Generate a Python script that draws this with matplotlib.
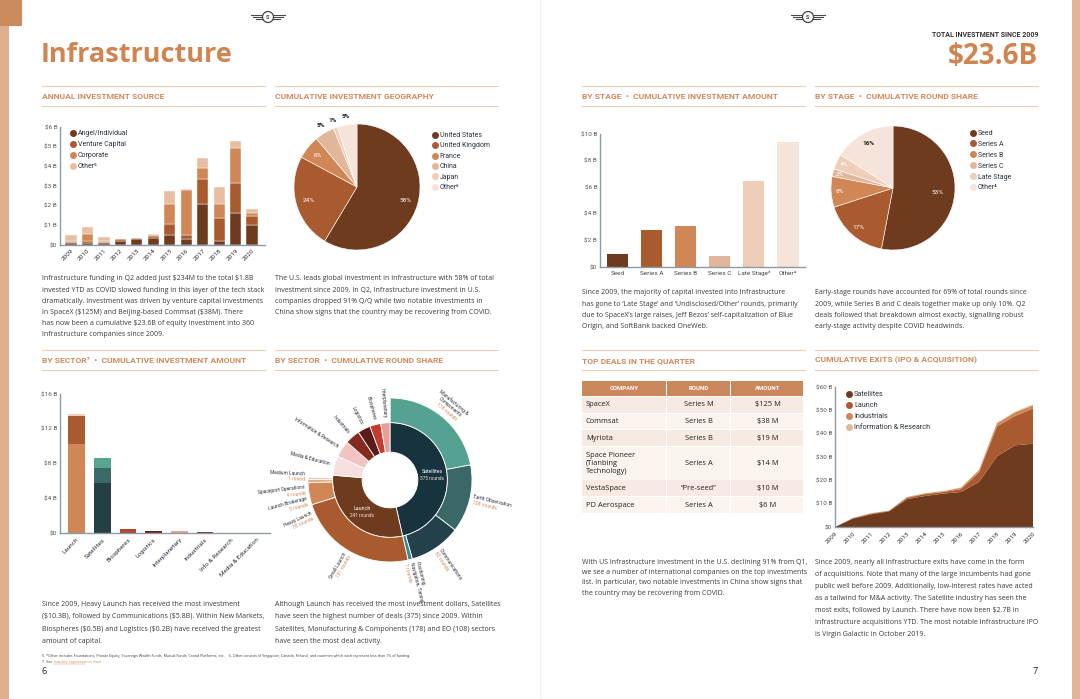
import numpy as np
import matplotlib.pyplot as plt
from matplotlib.patches import Rectangle, Circle
from matplotlib.lines import Line2D

plt.rcParams['font.family'] = ['Roboto', 'DejaVu Sans']
plt.rcParams['text.parse_math'] = False

# ---------------- data ----------------
years = list(range(2009, 2021))
source_names = ["Angel/Individual", "Venture Capital", "Corporate", "Other⁵"]
src_angel = [0.08, 0.12, 0.12, 0.20, 0.28, 0.38, 0.50, 0.32, 2.11, 0.22, 1.61, 1.00]
src_venture = [0.05, 0.10, 0.03, 0.10, 0.06, 0.10, 0.59, 0.18, 1.26, 1.15, 1.56, 0.47]
src_corporate = [0.07, 0.32, 0.05, 0.02, 0.02, 0.05, 0.97, 2.31, 0.57, 0.74, 1.77, 0.15]
src_other = [0.30, 0.38, 0.22, 0.01, 0.02, 0.05, 0.70, 0.04, 0.48, 0.82, 0.37, 0.21]

countries = ["United States", "United Kingdom", "France", "China", "Japan", "Other⁶"]
geo_share = [58, 24, 6, 5, 1, 5]

stages = ["Seed", "Series A", "Series B", "Series C", "Late Stage³", "Other⁴"]
stage_amount = [1.0, 2.75, 3.05, 0.86, 6.5, 9.4]
round_stages = ["Seed", "Series A", "Series B", "Series C", "Late Stage", "Other⁴"]
round_share = [53, 17, 8, 2, 4, 16]

sectors = ["Launch", "Satellites", "Biospheres", "Logistics", "Interplanetary",
           "Industrials", "Info & Research", "Media & Education"]
launch_parts = [10.3, 3.2, 0.25]          # heavy, small, other
satellite_parts = [5.8, 1.7, 1.1]         # communications, EO, manufacturing
other_sector_amount = [0.5, 0.2, 0.2, 0.15, 0.05, 0.03]

inner_names = ["Satellites", "Launch", "Media & Education", "Information & Research",
               "Industrials", "Logistics", "Biospheres", "Interplanetary"]
inner_rounds = [375, 241, 44, 38, 34, 29, 25, 21]
sat_sub_names = ["Manufacturing &\nComponents", "Earth Observation", "Communications",
                 "Positioning,\nNavigation, Timing"]
sat_sub_rounds = [178, 108, 82, 7]
launch_sub_names = ["Small Launch", "Heavy Launch", "Launch Brokerage",
                    "Spaceport Operations", "Medium Launch"]
launch_sub_rounds = [191, 35, 5, 4, 1]

deal_company = ["SpaceX", "Commsat", "Myriota", "Space Pioneer\n(Tianbing\nTechnology)",
                "VestaSpace", "PD Aerospace"]
deal_round = ["Series M", "Series B", "Series B", "Series A", "“Pre-seed”", "Series A"]
deal_amount = ["$125 M", "$38 M", "$19 M", "$14 M", "$10 M", "$6 M"]

exit_names = ["Satellites", "Launch", "Industrials", "Information & Research"]
exit_sat = [0, 3.6, 5.4, 6.7, 11.9, 13.3, 14.3, 15.0, 19.3, 30.3, 35.0, 35.7]
exit_launch = [0, 0.2, 0.3, 0.2, 0.6, 0.8, 0.7, 1.2, 4.1, 12.8, 12.6, 15.1]
exit_ind = [0, 0.1, 0.2, 0.1, 0.3, 0.3, 0.3, 0.6, 0.9, 1.3, 1.5, 1.4]
exit_info = [0, 0.0, 0.05, 0.05, 0.1, 0.1, 0.1, 0.2, 0.2, 0.3, 0.3, 0.3]

# ---------------- style ----------------
W, H = 1080, 699
ORANGE = '#d08a5c'
NAVY = '#2a3340'
TXT = '#3a3a3a'
SPINE = '#8e9ba4'
BROWN = ['#6f3b1f', '#a95b2f', '#d08755', '#e2b69b', '#eecdb9', '#f6e4da']
BODY = ['Open Sans', 'DejaVu Sans']

fig = plt.figure(figsize=(W / 100, H / 100), dpi=100)
fig.patch.set_facecolor('white')


def px_axes(x0, y0, x1, y1):
    return fig.add_axes([x0 / W, 1 - y1 / H, (x1 - x0) / W, (y1 - y0) / H])


def style_axes(ax, size=4.6):
    for s in ['top', 'right']:
        ax.spines[s].set_visible(False)
    for s in ['left', 'bottom']:
        ax.spines[s].set_color(SPINE)
        ax.spines[s].set_linewidth(1.0)
    ax.tick_params(length=0, labelsize=size, colors='#555555', pad=2)
    ax.set_facecolor('none')


def dot_legend(ax, labels, colors, x, y, size=5.0, spacing=0.45):
    handles = [Line2D([], [], marker='o', ls='', color=c, markersize=4) for c in colors]
    leg = ax.legend(handles, labels, loc='upper left', bbox_to_anchor=(x / W, 1 - y / H),
                    bbox_transform=fig.transFigure, frameon=False, fontsize=size,
                    handletextpad=0.2, labelspacing=spacing, handlelength=0.9,
                    borderaxespad=0, borderpad=0)
    for t in leg.get_texts():
        t.set_color(NAVY)
    return leg


# ---------------- page background ----------------
bg = fig.add_axes([0, 0, 1, 1])
bg.set_xlim(0, W)
bg.set_ylim(H, 0)
bg.axis('off')

bg.add_patch(Rectangle((0, 0), 9, H, color='#dfae8e', lw=0))
bg.add_patch(Rectangle((0, 0), 22, 26, color='#cc8a5f', lw=0))
bg.add_patch(Rectangle((1072, 0), 8, H, color='#e2b597', lw=0))
bg.plot([540, 540], [0, H], color='#f0f0f0', lw=1.0)

for cx in (268, 808):
    for side in (-1, 1):
        for dy, ln in ((-2.2, 12), (0, 10), (2.2, 7)):
            bg.plot([cx + side * 5, cx + side * (5 + ln)], [17 + dy, 17 + dy], color='#4a4a4a', lw=0.8)
    bg.add_patch(Circle((cx, 17), 5.5, fc='white', ec='#444444', lw=0.9, zorder=3))
    bg.text(cx, 17.5, 'S', fontsize=4, ha='center', va='center', color='#444444', zorder=4,
            fontweight='bold')

bg.text(41, 55, "Infrastructure", fontsize=19.5, fontweight='bold', color='#d0844f',
        family=['Open Sans', 'DejaVu Sans'], va='center')
bg.text(1038, 35, "TOTAL INVESTMENT SINCE 2009", fontsize=5.0, fontweight='bold',
        color='#333333', ha='right', va='center')
bg.text(1038, 56, "$23.6B", fontsize=20, fontweight='bold', color='#d0844f',
        family=['Open Sans', 'DejaVu Sans'], ha='right', va='center')


def section(x0, x1, y_top, title):
    bg.plot([x0, x1], [y_top, y_top], color='#edcdb5', lw=0.8)
    bg.plot([x0, x1], [y_top + 20, y_top + 20], color='#edcdb5', lw=0.8)
    bg.text(x0, y_top + 10.5, title, color=ORANGE, fontsize=6.1, fontweight='bold', va='center')


cols = [(42, 265), (275, 498), (582, 805), (815, 1038)]
top_titles = ["ANNUAL INVESTMENT SOURCE", "CUMULATIVE INVESTMENT GEOGRAPHY",
              "BY STAGE  •  CUMULATIVE INVESTMENT AMOUNT", "BY STAGE  •  CUMULATIVE ROUND SHARE"]
bot_titles = ["BY SECTOR⁷  •  CUMULATIVE INVESTMENT AMOUNT", "BY SECTOR  •  CUMULATIVE ROUND SHARE",
              "TOP DEALS IN THE QUARTER", "CUMULATIVE EXITS (IPO & ACQUISITION)"]
for (x0, x1), t in zip(cols, top_titles):
    section(x0, x1, 86, t)
for (x0, x1), t in zip(cols, bot_titles):
    section(x0, x1, 350, t)


def paragraph(x, y, lines, step=11.2, size=5.0):
    for i, line in enumerate(lines):
        bg.text(x, y + i * step, line, fontsize=size, family=BODY, color=TXT, va='center')


paragraph(42, 279, [
    "Infrastructure funding in Q2 added just $234M to the total $1.8B",
    "invested YTD as COVID slowed funding in this layer of the tech stack",
    "dramatically. Investment was driven by venture capital investments",
    "in SpaceX ($125M) and Beijing-based Commsat ($38M). There",
    "has now been a cumulative $23.6B of equity investment into 360",
    "Infrastructure companies since 2009."])
paragraph(275, 279, [
    "The U.S. leads global investment in Infrastructure with 58% of total",
    "investment since 2009. In Q2, Infrastructure investment in U.S.",
    "companies dropped 91% Q/Q while two notable investments in",
    "China show signs that the country may be recovering from COVID."])
paragraph(582, 293, [
    "Since 2009, the majority of capital invested into Infrastructure",
    "has gone to ‘Late Stage’ and ‘Undisclosed/Other’ rounds, primarily",
    "due to SpaceX’s large raises, Jeff Bezos’ self-capitalization of Blue",
    "Origin, and SoftBank backed OneWeb."])
paragraph(815, 293, [
    "Early-stage rounds have accounted for 69% of total rounds since",
    "2009, while Series B and C deals together make up only 10%. Q2",
    "deals followed that breakdown almost exactly, signalling robust",
    "early-stage activity despite COVID headwinds."])
paragraph(42, 604, [
    "Since 2009, Heavy Launch has received the most investment",
    "($10.3B), followed by Communications ($5.8B). Within New Markets,",
    "Biospheres ($0.5B) and Logistics ($0.2B) have received the greatest",
    "amount of capital."], step=12.6)
paragraph(275, 604, [
    "Although Launch has received the most investment dollars, Satellites",
    "have seen the highest number of deals (375) since 2009. Within",
    "Satellites, Manufacturing & Components (178) and EO (108) sectors",
    "have seen the most deal activity."], step=12.6)
paragraph(582, 562, [
    "With US Infrastructure investment in the U.S. declining 91% from Q1,",
    "we see a number of international companies on the top investments",
    "list. In particular, two notable investments in China show signs that",
    "the country may be recovering from COVID."], step=10.4)
paragraph(815, 562, [
    "Since 2009, nearly all Infrastructure exits have come in the form",
    "of acquisitions. Note that many of the large incumbents had gone",
    "public well before 2009. Additionally, low-interest rates have acted",
    "as a tailwind for M&A activity. The Satellite industry has seen the",
    "most exits, followed by Launch. There have now been $2.7B in",
    "Infrastructure acquisitions YTD. The most notable Infrastructure IPO",
    "is Virgin Galactic in October 2019."], step=12.0)

bg.text(42, 656, "5. *Other includes Foundations, Private Equity, Sovereign Wealth Funds, Mutual Funds, "
        "Crowd Platforms, etc.    6. Other consists of Singapore, Canada, Finland, and countries which "
        "each represent less than 1% of funding.", fontsize=2.6, family=BODY, color=TXT, va='center')
bg.text(42, 662, "7. See", fontsize=2.6, family=BODY, color=TXT, va='center')
bg.text(54, 662, "industry segmentation chart", fontsize=2.6, family=BODY, color=ORANGE, va='center')
bg.plot([54, 85], [664, 664], color=ORANGE, lw=0.3)
bg.text(42, 671, "6", fontsize=6.5, family=BODY, color='#222222', va='center')
bg.text(1038, 671, "7", fontsize=6.5, family=BODY, color='#222222', va='center', ha='right')

# ---------------- annual investment source ----------------
ax = px_axes(60, 127, 265, 245)
x = np.arange(len(years))
bottom = np.zeros(len(years))
for vals, c in zip([src_angel, src_venture, src_corporate, src_other], BROWN[:3] + ['#e8bea3']):
    ax.bar(x, vals, bottom=bottom, width=0.68, color=c, edgecolor='white', linewidth=0.3)
    bottom += np.array(vals)
ax.set_xlim(-0.67, 11.79)
ax.set_ylim(0, 6)
ax.set_yticks(range(7))
ax.set_yticklabels(["$0"] + [f"${v} B" for v in range(1, 7)])
ax.set_xticks(x)
ax.set_xticklabels(years, rotation=45, ha='right', rotation_mode='anchor')
style_axes(ax)
ax.tick_params(axis='x', colors=NAVY)
dot_legend(ax, source_names, BROWN[:3] + ['#e8bea3'], 70, 130, size=5.0, spacing=0.6)

# ---------------- geography pie ----------------
ax = px_axes(294, 124, 420, 250)
wedges, _ = ax.pie(geo_share, colors=BROWN, startangle=90, counterclock=False,
                   wedgeprops=dict(edgecolor='white', linewidth=0.4))
ax.set_xlim(-1, 1)
ax.set_ylim(-1, 1)
geo_inside = [True, True, True, False, False, False]
for w, v, inside in zip(wedges, geo_share, geo_inside):
    a = np.radians((w.theta1 + w.theta2) / 2)
    r = 0.8 if inside else 1.13
    ax.text(r * np.cos(a), r * np.sin(a), f"{v}%", ha='center', va='center', fontsize=4.6,
            color='white' if inside else '#222222', fontweight='normal' if inside else 'bold')
dot_legend(ax, countries, BROWN, 432, 132, size=5.0, spacing=0.5)

# ---------------- stage amount bars ----------------
ax = px_axes(600, 134, 805, 267)
xs = np.arange(len(stages))
ax.bar(xs, stage_amount, width=0.62, color=BROWN)
ax.set_xlim(-0.51, 5.5)
ax.set_ylim(0, 10)
ax.set_yticks(range(0, 11, 2))
ax.set_yticklabels(["$0"] + [f"${v} B" for v in range(2, 11, 2)])
ax.set_xticks(xs)
ax.set_xticklabels(stages)
style_axes(ax)
ax.tick_params(axis='x', colors='#444444', pad=3)

# ---------------- stage round share pie ----------------
ax = px_axes(831, 126, 955, 250)
wedges, _ = ax.pie(round_share, colors=BROWN, startangle=90, counterclock=False,
                   wedgeprops=dict(edgecolor='white', linewidth=0.4))
ax.set_xlim(-1, 1)
ax.set_ylim(-1, 1)
round_label_r = [0.72, 0.84, 0.86, 0.88, 0.88, 0.82]
for w, v, r in zip(wedges, round_share, round_label_r):
    a = np.radians((w.theta1 + w.theta2) / 2)
    ax.text(r * np.cos(a), r * np.sin(a), f"{v}%", ha='center', va='center', fontsize=4.6,
            color='#222222' if v == 16 else 'white', fontweight='bold' if v == 16 else 'normal')
dot_legend(ax, round_stages, BROWN, 970, 130, size=5.0, spacing=0.56)

# ---------------- sector amount bars ----------------
ax = px_axes(60, 394, 270, 533)
launch_cols = ['#d08755', '#a95b2f', '#f2cfba']
sat_cols = ['#253f45', '#3b6a6b', '#59a594']
other_cols = ['#b8432c', '#6b1f1b', '#e6a29c', '#7a2a22', '#e8b4b0', '#efd5d2']
b = 0
for v, c in zip(launch_parts, launch_cols):
    ax.bar(0, v, bottom=b, width=0.65, color=c)
    b += v
b = 0
for v, c in zip(satellite_parts, sat_cols):
    ax.bar(1, v, bottom=b, width=0.65, color=c)
    b += v
ax.bar(np.arange(2, 2 + len(other_sector_amount)), other_sector_amount, width=0.65, color=other_cols)
ax.set_xlim(-0.64, 7.53)
ax.set_ylim(0, 16)
ax.set_yticks(range(0, 17, 4))
ax.set_yticklabels(["$0"] + [f"${v} B" for v in range(4, 17, 4)])
ax.set_xticks(range(len(sectors)))
ax.set_xticklabels(sectors, rotation=45, ha='right', rotation_mode='anchor')
style_axes(ax)
ax.tick_params(axis='x', colors=NAVY, pad=3)

# ---------------- sector round share sunburst ----------------
ax = px_axes(308, 398, 472, 562)
r_out, r_mid, r_in = 1.0, 0.70, 0.34
inner_cols = ['#17333d', '#6f3b1f', '#f8dfdf', '#f2c3c3', '#86291f', '#5b1b1b', '#c23b2c', '#e99d99']
sat_sub_cols = ['#55a292', '#3a6869', '#24404a', '#3d8a92']
launch_sub_cols = ['#a95b2f', '#d08755', '#e3aa84', '#eec3a8', '#f5dccb']
ax.pie(inner_rounds, radius=r_mid, colors=inner_cols, startangle=90, counterclock=False,
       wedgeprops=dict(width=r_mid - r_in, edgecolor='white', linewidth=0.6))
outer_vals = sat_sub_rounds + launch_sub_rounds + [inner_rounds[1] - sum(launch_sub_rounds),
                                                     sum(inner_rounds[2:])]
outer_cols = sat_sub_cols + launch_sub_cols + ['none', 'none']
ax.pie(outer_vals, radius=r_out, colors=outer_cols, startangle=90, counterclock=False,
       wedgeprops=dict(width=r_out - r_mid, edgecolor='white', linewidth=0.6))
ax.set_xlim(-1, 1)
ax.set_ylim(-1, 1)

deg = 360.0 / sum(inner_rounds)


def mid_angles(values, start=90.0):
    out = []
    for v in values:
        out.append(start - v * deg / 2)
        start -= v * deg
    return out, start


def sun_label(theta, r, name, count, tangent=False, size=3.5, step=0.072):
    th = (theta + 180) % 360 - 180
    if tangent:
        rot, ha = th - 90, 'center'
    elif abs(th) <= 90:
        rot, ha = th, 'left'
    else:
        rot, ha = (th - 180 if th > 0 else th + 180), 'right'
    lines = name.split('\n') + ([count] if count else [])
    colors = [NAVY] * len(name.split('\n')) + ([ORANGE] if count else [])
    down = np.array([np.sin(np.radians(rot)), -np.cos(np.radians(rot))])
    base = np.array([r * np.cos(np.radians(theta)), r * np.sin(np.radians(theta))])
    n = len(lines)
    start = base - down * (n - 1) * step if tangent else base - down * (n - 1) * step / 2
    for k, (ln, c) in enumerate(zip(lines, colors)):
        p = start + down * k * step
        ax.text(p[0], p[1], ln, rotation=rot, ha=ha, va='center', rotation_mode='anchor',
                fontsize=size, color=c)


inner_mid, _ = mid_angles(inner_rounds)
sat_mid, sat_end = mid_angles(sat_sub_rounds)
launch_mid, _ = mid_angles(launch_sub_rounds, sat_end)

sat_tangent = [True, False, False, False]
for th, nm, v, tg in zip(sat_mid, sat_sub_names, sat_sub_rounds, sat_tangent):
    sun_label(th, 1.08 if tg else 1.04, nm, f"{v} rounds", tangent=tg)
launch_label_shift = [0, 15, 14, 8, 0]
for th, nm, v, sh in zip(launch_mid, launch_sub_names, launch_sub_rounds, launch_label_shift):
    sun_label(th + sh, 1.04, nm, f"{v} round" + ("s" if v != 1 else ""))
for th, nm in zip(inner_mid[2:], inner_names[2:]):
    sun_label(th, 0.76, nm, None)
for th, nm, v in zip(inner_mid[:2], inner_names[:2], inner_rounds[:2]):
    a = np.radians(th)
    px, py = 0.52 * np.cos(a), 0.52 * np.sin(a)
    ax.text(px, py + 0.04, nm, ha='center', va='center', fontsize=3.8, color='white')
    ax.text(px, py - 0.045, f"{v} rounds", ha='center', va='center', fontsize=3.4, color='#f0e0d6')

# ---------------- top deals table ----------------
ax = px_axes(582, 381, 804, 513)
col_edges = [0, 85, 149, 222]
row_lines = [c.count('\n') + 1 for c in deal_company]
row_h = [7.5 + 8.5 * n for n in row_lines]
total_h = 15 + sum(row_h) + len(row_h)
ax.set_xlim(0, 222)
ax.set_ylim(total_h, 0)
ax.axis('off')
headers = ["COMPANY", "ROUND", "AMOUNT"]
for j, hd in enumerate(headers):
    ax.add_patch(Rectangle((col_edges[j], 0), col_edges[j + 1] - col_edges[j] - 1, 15,
                           color='#c9875b', lw=0))
    ax.text((col_edges[j] + col_edges[j + 1]) / 2, 7.5, hd, ha='center', va='center',
            fontsize=4.3, fontweight='bold', color='white')
y = 16
for i, (comp, rnd, amt) in enumerate(zip(deal_company, deal_round, deal_amount)):
    fc = '#f6eae2' if i % 2 == 0 else '#faf3ee'
    for j in range(3):
        ax.add_patch(Rectangle((col_edges[j], y), col_edges[j + 1] - col_edges[j] - 1, row_h[i],
                               color=fc, lw=0))
    yc = y + row_h[i] / 2
    ax.text(4, yc, comp, ha='left', va='center', fontsize=5.4, color='#222222',
            family=BODY, linespacing=1.15)
    ax.text((col_edges[1] + col_edges[2]) / 2, yc, rnd, ha='center', va='center', fontsize=5.4,
            color='#222222', family=BODY)
    ax.text((col_edges[2] + col_edges[3]) / 2, yc, amt, ha='center', va='center', fontsize=5.4,
            color='#222222', family=BODY)
    y += row_h[i] + 1

# ---------------- cumulative exits ----------------
ax = px_axes(835, 387, 1033, 527)
exit_cols = BROWN[:3] + ['#e2b69b']
ax.stackplot(years, exit_sat, exit_launch, exit_ind, exit_info, colors=exit_cols, lw=0)
ax.set_xlim(2009, 2020)
ax.set_ylim(0, 60)
ax.set_yticks(range(0, 61, 10))
ax.set_yticklabels(["$0"] + [f"${v} B" for v in range(10, 61, 10)])
ax.set_xticks(years)
ax.set_xticklabels(years, rotation=45, ha='right', rotation_mode='anchor')
style_axes(ax)
ax.tick_params(axis='x', colors='#333333', pad=3)
dot_legend(ax, exit_names, exit_cols, 846, 391, size=5.2, spacing=0.55)

fig.savefig('out.png', dpi=100, facecolor='white')
